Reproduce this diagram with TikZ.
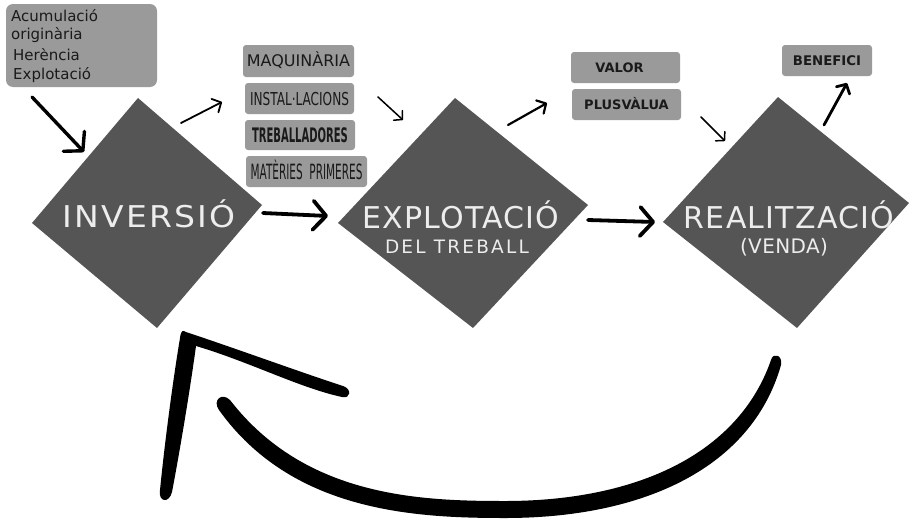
\documentclass[tikz,border=0pt]{standalone}
\usepackage{fontspec}
\setmainfont{DejaVu Sans}
\newfontfamily\bigA[LetterSpace=7]{DejaVu Sans}
\newfontfamily\bigB[LetterSpace=4]{DejaVu Sans}
\newfontfamily\subA[LetterSpace=12]{DejaVu Sans}
\newfontfamily\subB[LetterSpace=2]{DejaVu Sans}
\usetikzlibrary{arrows.meta}
\definecolor{dia}{HTML}{555555}
\definecolor{boxg}{HTML}{9A9A9A}
\definecolor{dtext}{HTML}{EDEDED}
\definecolor{ink}{HTML}{1A1A1A}
\tikzset{
  gbox/.style={fill=boxg, rounded corners=3pt, inner sep=0pt, text=ink, text depth=0pt},
  bigtxt/.style={text=dtext, anchor=base, inner sep=0pt},
  hand/.style={line cap=round, draw=black, -{Straight Barb[round]}},
  thinarrow/.style={hand, line width=1.5pt, -{Straight Barb[round, length=6pt, width=13pt]}},
  midarrow/.style={hand, line width=2.2pt, -{Straight Barb[round, length=7pt, width=15pt]}},
  thickarrow/.style={hand, line width=3.8pt, -{Straight Barb[round, length=13pt, width=29pt]}},
  tltxt/.style={anchor=base west, inner sep=0pt, text=ink, font=\fontsize{15}{15}\selectfont}
}
\begin{document}
\begin{tikzpicture}[x=1pt,y=-1pt]
\useasboundingbox (0,0) rectangle (909,522);
% diamonds
\fill[dia] (138,98) -- (262,205) -- (157,328) -- (32,223) -- cycle;
\fill[dia] (455,98) -- (588,205) -- (473,328) -- (338,223) -- cycle;
\fill[dia] (778,97) -- (909,203) -- (797,328) -- (663,222) -- cycle;
\node[bigtxt, font=\fontsize{30}{30}\bigA] (inv) at (149,227) {\scalebox{1.1}[1]{INVERSIÓ}};
\node[bigtxt, font=\fontsize{30}{30}\bigB] (exp) at (461,228) {EXPLOTACIÓ};
\node[bigtxt, font=\fontsize{18.5}{18.5}\subA] (del) at (457,253) {DEL TREBALL};
\node[bigtxt, font=\fontsize{30}{30}\bigB] (rea) at (789,228) {REALITZACIÓ};
\node[bigtxt, font=\fontsize{20}{20}\subB] (ven) at (784,253) {(VENDA)};
% top-left box
\fill[boxg, rounded corners=7pt] (6,4) rectangle (157,87);
\node[tltxt] (t1) at (11,21) {Acumulació};
\node[tltxt] (t2) at (11,39) {originària};
\node[tltxt] (t3) at (13,60) {Herència};
\node[tltxt] (t4) at (13,79) {Explotació};
% small boxes
\node[gbox, minimum width=111pt, minimum height=32pt, text height=11.5pt, font=\fontsize{16}{16}\selectfont] (maq) at (298.5,61) {MAQUINÀRIA};
\node[gbox, minimum width=109pt, minimum height=31pt, text height=13pt, font=\fontsize{17.8}{17.8}\selectfont] (ins) at (299.5,98.5) {\scalebox{0.68}[1]{INSTAL·LACIONS}};
\node[gbox, minimum width=110pt, minimum height=30pt, text height=14.5pt, font=\fontsize{20}{20}\selectfont\bfseries] (tre) at (300,135) {\scalebox{0.5}[1]{TREBALLADORES}};
\node[gbox, minimum width=121pt, minimum height=31pt, text height=15pt, font=\fontsize{21}{21}\selectfont] (mat) at (306.5,171.5) {\scalebox{0.5}[1]{MATÈRIES\ \ PRIMERES}};
\node[gbox, minimum width=109pt, minimum height=31pt, text height=9.5pt, font=\fontsize{13}{13}\selectfont\bfseries] (val) at (625.5,67.5) {\hspace*{-12pt}VALOR};
\node[gbox, minimum width=109pt, minimum height=31pt, text height=9.5pt, font=\fontsize{13}{13}\selectfont\bfseries] (plu) at (626.5,104.5) {PLUSVÀLUA};
\node[gbox, minimum width=90pt, minimum height=31pt, text height=9.5pt, font=\fontsize{13.3}{13.3}\selectfont\bfseries] (ben) at (827,60.5) {BENEFICI};
% arrow end points
\coordinate (a1s) at (32,97);   \coordinate (a1e) at (84,152);
\coordinate (a2s) at (181,123); \coordinate (a2e) at (222,102);
\coordinate (a3s) at (263,213); \coordinate (a3e) at (328,216);
\coordinate (a4s) at (378,97);  \coordinate (a4e) at (403,120);
\coordinate (a5s) at (508,125); \coordinate (a5e) at (547,103);
\coordinate (a6s) at (588,220); \coordinate (a6e) at (655,222);
\coordinate (a7s) at (701,117); \coordinate (a7e) at (725,141);
\coordinate (a8s) at (824,125); \coordinate (a8e) at (847,83);
\draw[thickarrow, line width=3.4pt] (a1s) -- (a1e);
\draw[midarrow, line width=1.8pt] (a2s) -- (a2e);
\draw[thickarrow] (a3s) -- (a3e);
\draw[thinarrow] (a4s) -- (a4e);
\draw[midarrow] (a5s) -- (a5e);
\draw[thickarrow] (a6s) -- (a6e);
\draw[thinarrow] (a7s) -- (a7e);
\draw[midarrow, line width=2.8pt] (a8s) -- (a8e);
% big return arrow
\fill[black] (230,400) .. controls (305,497) and (420,501) .. (505,501)
  .. controls (635,501) and (738,455) .. (771,360)
  .. controls (773,352) and (783,355) .. (781,365)
  .. controls (752,467) and (645,518) .. (505,518)
  .. controls (415,518) and (292,512) .. (219,410)
  .. controls (212,400) and (222,392) .. (230,400) -- cycle;
\fill[black] (186,332)
  .. controls (240,350) and (300,372) .. (343,386)
  .. controls (352,389) and (351,399) .. (342,397)
  .. controls (300,388) and (250,362) .. (196,346)
  .. controls (190,390) and (180,450) .. (172,492)
  .. controls (169,504) and (158,502) .. (160,490)
  .. controls (165,440) and (173,380) .. (180,338)
  .. controls (181,330) and (183,330) .. (186,332) -- cycle;
\end{tikzpicture}
\end{document}
